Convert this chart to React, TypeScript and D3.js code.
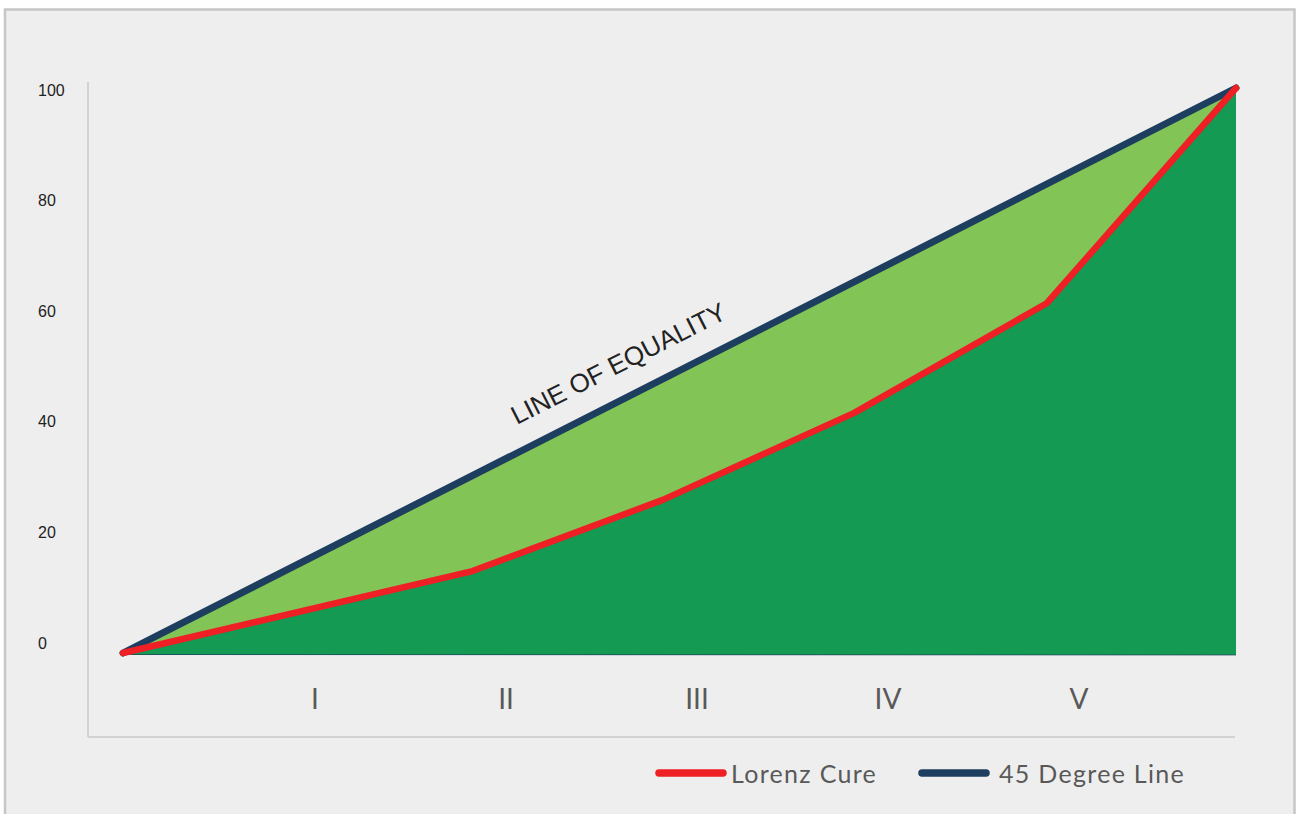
import React from "react";
import * as d3 from "d3";

// Cumulative share of population (%) and of income (%)
const populationShare = [0, 31.4, 48.5, 65.7, 83.0, 100];
const lorenzIncome = [0, 14.5, 27.1, 42.5, 61.9, 100];
const equalityIncome = [0, 100];
const equalityPopulation = [0, 100];

const quintiles = ["I", "II", "III", "IV", "V"];
const yTicks = [0, 20, 40, 60, 80, 100];

const legendItems = [
  { label: "Lorenz Cure", color: "#ee1f25" },
  { label: "45 Degree Line", color: "#1e3e5f" },
];

const W = 1296;
const H = 814;

export default function App() {
  const x = d3.scaleLinear().domain([0, 100]).range([123, 1236]);
  const y = d3.scaleLinear().domain([0, 100]).range([653, 88]);
  const tickY = d3.scaleLinear().domain([0, 100]).range([643, 90]);
  const q = d3.scalePoint<string>().domain(quintiles).range([315, 1079]);

  const lorenzPts: [number, number][] = populationShare.map((p, i) => [p, lorenzIncome[i]]);
  const equalPts: [number, number][] = equalityPopulation.map((p, i) => [p, equalityIncome[i]]);

  const line = d3
    .line<[number, number]>()
    .x((d) => x(d[0]))
    .y((d) => y(d[1]));
  const area = d3
    .area<[number, number]>()
    .x((d) => x(d[0]))
    .y0(y(0) + 2)
    .y1((d) => y(d[1]));

  // rotation of the equality line on screen
  const angle =
    (Math.atan2(y(0) - y(100), x(100) - x(0)) * 180) / Math.PI;
  const labelX = 36.4;
  const lx = x(labelX);
  const ly = y(labelX);

  return (
    <div style={{ position: "fixed", left: 0, top: 0, width: W, height: H, background: "#fff" }}>
      <svg width={W} height={H} style={{ display: "block" }}>
        <rect x={5} y={9.5} width={1289.5} height={H + 10} fill="#eeeeee" stroke="#c6c6c6" strokeWidth={2.5} />

        {/* plot frame */}
        <line x1={88} y1={82} x2={88} y2={737} stroke="#c8c8c8" strokeWidth={1.5} />
        <line x1={88} y1={737} x2={1235} y2={737} stroke="#c8c8c8" strokeWidth={1.5} />

        {/* areas */}
        <path d={area(equalPts) || ""} fill="#82c455" />
        <path d={area(lorenzPts) || ""} fill="#149a52" />
        <line x1={x(0)} y1={y(0) + 1.5} x2={x(100)} y2={y(0) + 2} stroke="#1e3e5f" strokeWidth={1} opacity={0.7} />

        {/* curves */}
        <path d={line(equalPts) || ""} fill="none" stroke="#1e3e5f" strokeWidth={7} strokeLinecap="round" strokeLinejoin="round" />
        <path d={line(lorenzPts) || ""} fill="none" stroke="#ee1f25" strokeWidth={6.5} strokeLinecap="round" strokeLinejoin="round" />

        <text
          transform={`translate(${lx},${ly}) rotate(${-angle})`}
          dy={-25}
          fontFamily="'Liberation Sans', Arial, sans-serif"
          fontSize={26}
          fill="#222"
        >
          LINE OF EQUALITY
        </text>

        {/* y tick labels */}
        {yTicks.map((t) => (
          <text
            key={t}
            x={38}
            y={tickY(t)}
            dominantBaseline="central"
            fontFamily="'Liberation Sans', Arial, sans-serif"
            fontSize={16}
            fill="#222"
          >
            {t}
          </text>
        ))}

        {/* quintile labels */}
        {quintiles.map((c) => (
          <text
            key={c}
            x={q(c)}
            y={698}
            textAnchor="middle"
            dominantBaseline="central"
            fontFamily="Lato, sans-serif"
            fontSize={28}
            fill="#595959"
          >
            {c}
          </text>
        ))}

        {/* legend */}
        <g>
          <line x1={659} y1={773} x2={723} y2={773} stroke={legendItems[0].color} strokeWidth={7.5} strokeLinecap="round" />
          <text x={731} y={773} dominantBaseline="central" fontFamily="Lato, sans-serif" fontSize={25} letterSpacing={1.3} fill="#595959">
            {legendItems[0].label}
          </text>
          <line x1={922} y1={773} x2={986} y2={773} stroke={legendItems[1].color} strokeWidth={7.5} strokeLinecap="round" />
          <text x={999} y={773} dominantBaseline="central" fontFamily="Lato, sans-serif" fontSize={25} letterSpacing={1.3} fill="#595959">
            {legendItems[1].label}
          </text>
        </g>
      </svg>
    </div>
  );
}
